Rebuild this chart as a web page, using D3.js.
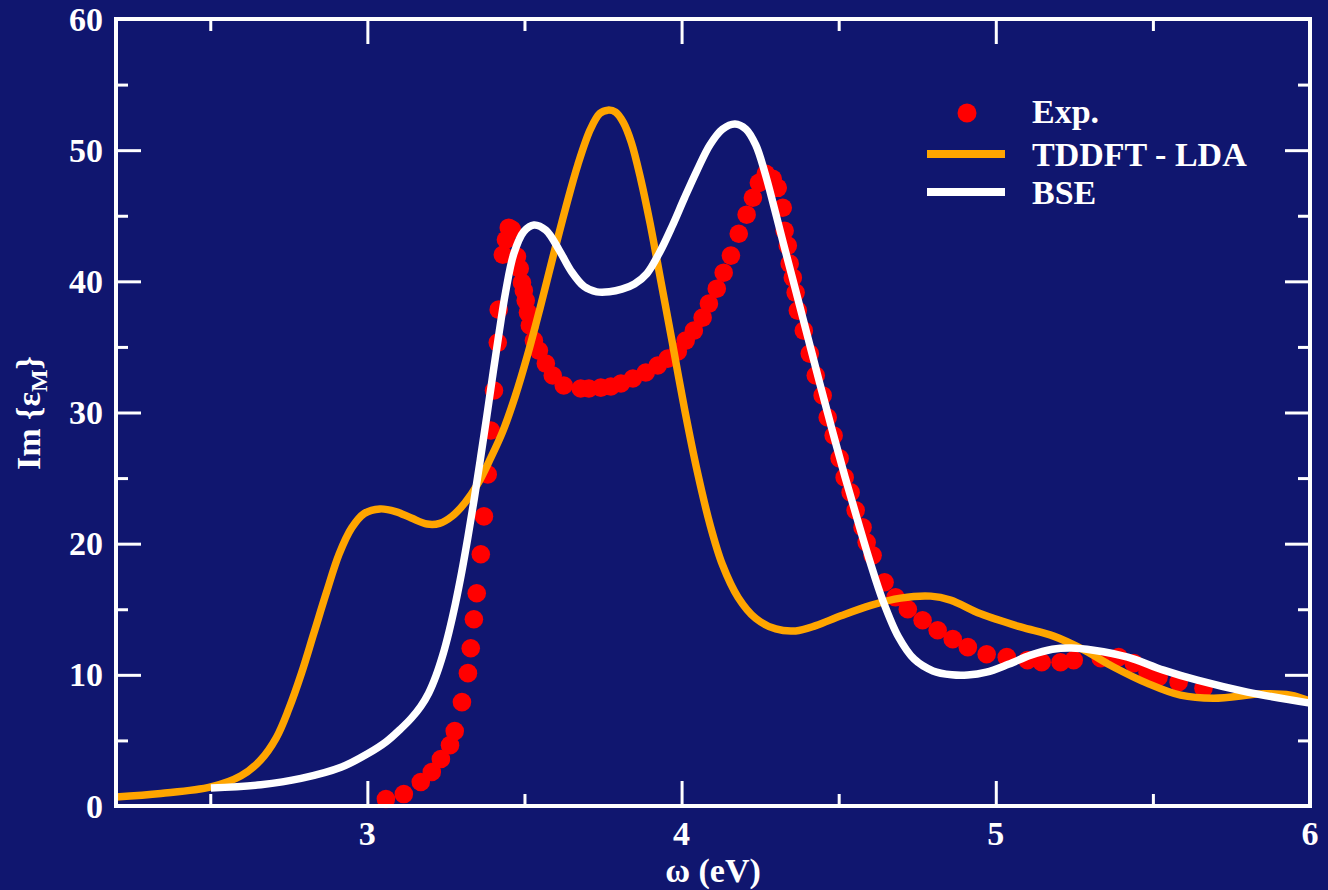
<!DOCTYPE html>
<html>
<head>
<meta charset="utf-8">
<script src="https://cdn.jsdelivr.net/npm/d3@7"></script>
<style>
  html, body { margin: 0; padding: 0; background: #10166f; }
  svg { display: block; }
  text { font-family: "Liberation Serif", "Times New Roman", serif; font-weight: bold; fill: #ffffff; }
</style>
</head>
<body>
<svg id="chart" width="1328" height="890"></svg>
<script>
// ---------------- data ----------------
const expX = [3.059,3.116,3.170,3.205,3.234,3.263,3.278,3.301,3.320,3.329,3.339,3.348,3.361,3.371,3.383,3.393,3.403,3.415,3.418,3.431,3.441,3.450,3.460,3.476,3.485,3.492,3.498,3.504,3.511,3.517,3.530,3.546,3.568,3.590,3.625,3.679,3.705,3.743,3.775,3.807,3.845,3.886,3.924,3.956,3.988,4.013,4.039,4.067,4.087,4.112,4.134,4.157,4.182,4.207,4.227,4.246,4.268,4.290,4.306,4.322,4.328,4.338,4.344,4.354,4.363,4.370,4.389,4.408,4.427,4.449,4.465,4.484,4.503,4.519,4.538,4.554,4.576,4.589,4.608,4.646,4.681,4.720,4.767,4.815,4.863,4.911,4.971,5.035,5.101,5.146,5.206,5.248,5.334,5.391,5.439,5.483,5.518,5.582,5.661];
const expY = [0.53,0.91,1.83,2.59,3.58,4.64,5.71,7.92,10.13,12.03,14.24,16.22,19.19,22.08,25.28,28.63,31.68,35.33,37.84,42.03,43.17,44.09,43.94,41.88,40.97,39.90,39.29,38.53,37.62,36.63,35.48,34.72,33.73,32.82,32.06,31.83,31.83,31.90,31.98,32.21,32.59,33.05,33.58,34.11,34.65,35.48,36.24,37.23,38.30,39.44,40.66,41.96,43.63,45.08,46.37,47.51,48.20,47.82,47.13,45.61,43.86,42.72,41.35,40.28,39.14,37.77,36.24,34.49,32.82,31.30,29.62,28.25,26.50,25.05,23.91,22.54,21.24,20.10,19.11,17.06,15.91,15.00,14.16,13.40,12.72,12.11,11.57,11.35,11.12,10.96,10.96,11.12,11.27,11.35,10.89,10.20,9.82,9.44,8.98];

const tddftX = [2.200,2.343,2.502,2.598,2.660,2.710,2.750,2.790,2.830,2.870,2.910,2.950,2.990,3.040,3.090,3.140,3.190,3.230,3.270,3.310,3.350,3.390,3.430,3.470,3.510,3.550,3.590,3.630,3.670,3.710,3.740,3.765,3.790,3.815,3.840,3.870,3.900,3.935,3.970,4.010,4.050,4.090,4.130,4.180,4.236,4.300,4.363,4.427,4.507,4.602,4.697,4.793,4.856,4.952,5.079,5.184,5.280,5.375,5.483,5.588,5.693,5.852,5.938,6.000];
const tddftY = [0.69,0.95,1.45,2.30,3.50,5.20,7.40,10.10,13.20,16.30,19.20,21.20,22.30,22.65,22.45,21.95,21.50,21.55,22.10,23.10,24.50,26.40,28.50,31.20,34.40,38.00,41.80,45.50,48.90,51.60,52.80,53.05,52.90,52.10,50.60,47.80,44.40,39.90,35.40,30.20,25.50,21.50,18.40,15.90,14.30,13.50,13.35,13.75,14.50,15.30,15.85,16.00,15.70,14.65,13.65,12.95,11.90,10.60,9.35,8.45,8.22,8.55,8.45,8.00];

const bseX = [2.502,2.661,2.789,2.916,3.002,3.060,3.107,3.140,3.170,3.195,3.218,3.240,3.260,3.280,3.300,3.320,3.340,3.360,3.380,3.400,3.420,3.440,3.466,3.498,3.530,3.568,3.610,3.648,3.690,3.730,3.770,3.810,3.850,3.890,3.930,3.970,4.010,4.050,4.090,4.130,4.170,4.205,4.236,4.265,4.295,4.325,4.360,4.400,4.440,4.480,4.520,4.560,4.600,4.640,4.690,4.740,4.800,4.860,4.910,4.970,5.040,5.111,5.180,5.240,5.311,5.420,5.534,5.642,5.801,6.000];
const bseY = [1.37,1.62,2.10,2.95,4.00,4.90,5.90,6.70,7.60,8.60,9.90,11.50,13.30,15.40,17.80,20.50,23.40,26.50,29.70,33.00,36.20,39.20,42.10,43.80,44.30,43.90,42.40,40.80,39.60,39.20,39.20,39.40,39.80,40.60,42.20,44.20,46.40,48.50,50.40,51.60,52.00,51.60,50.40,48.30,45.60,42.80,39.60,35.90,32.20,28.60,25.10,21.80,18.60,15.70,12.90,11.20,10.30,10.00,9.98,10.20,10.80,11.50,11.95,12.05,11.88,11.35,10.36,9.59,8.68,7.84];

const xMajorTicks = [3, 4, 5, 6];
const xMinorTicks = [2.5, 3.5, 4.5, 5.5];
const yMajorTicks = [0, 10, 20, 30, 40, 50, 60];
const yMinorTicks = [5, 15, 25, 35, 45, 55];

const legendLabels = ["Exp.", "TDDFT - LDA", "BSE"];
const xLabel = "ω (eV)";

// ---------------- chart ----------------
const svg = d3.select("#chart");
const W = 1328, H = 890;
const M = { left: 116, right: 1310, top: 19, bottom: 806 };
const BG = "#10166f";
const ORANGE = "#ffa500";
const RED = "#ff0000";

svg.append("rect").attr("width", W).attr("height", H).attr("fill", BG);

const x = d3.scaleLinear().domain([2.2, 6]).range([M.left, M.right]);
const y = d3.scaleLinear().domain([0, 60]).range([M.bottom, M.top]);

const plot = svg.append("g");

// experimental dots
const exp = expX.map((d, i) => ({ x: d, y: expY[i] }));
plot.selectAll("circle.exp").data(exp).join("circle")
  .attr("class", "exp")
  .attr("cx", d => x(d.x)).attr("cy", d => y(d.y)).attr("r", 9.3)
  .attr("fill", RED);

const line = d3.line().x(d => x(d.x)).y(d => y(d.y)).curve(d3.curveCatmullRom.alpha(0.5));

const tddft = tddftX.map((d, i) => ({ x: d, y: tddftY[i] }));
plot.append("path").datum(tddft).attr("d", line)
  .attr("fill", "none").attr("stroke", ORANGE).attr("stroke-width", 7.5)
  .attr("stroke-linecap", "butt").attr("stroke-linejoin", "round");

const bse = bseX.map((d, i) => ({ x: d, y: bseY[i] }));
plot.append("path").datum(bse).attr("d", line)
  .attr("fill", "none").attr("stroke", "#ffffff").attr("stroke-width", 7.5)
  .attr("stroke-linecap", "butt").attr("stroke-linejoin", "round");

// ticks via d3 axes (inward ticks on all four sides)
function styleAxis(g) {
  g.select(".domain").remove();
  g.selectAll(".tick line").attr("stroke", "#ffffff").attr("stroke-width", 3);
  g.selectAll(".tick text").remove();
}
svg.append("g").attr("transform", `translate(0,${M.bottom})`)
  .call(d3.axisBottom(x).tickValues(xMajorTicks.filter(v => v < 6)).tickSize(-25)).call(styleAxis);
svg.append("g").attr("transform", `translate(0,${M.bottom})`)
  .call(d3.axisBottom(x).tickValues(xMinorTicks).tickSize(-12)).call(styleAxis);
svg.append("g").attr("transform", `translate(0,${M.top})`)
  .call(d3.axisTop(x).tickValues(xMajorTicks.filter(v => v < 6)).tickSize(-25)).call(styleAxis);
svg.append("g").attr("transform", `translate(0,${M.top})`)
  .call(d3.axisTop(x).tickValues(xMinorTicks).tickSize(-12)).call(styleAxis);
svg.append("g").attr("transform", `translate(${M.left},0)`)
  .call(d3.axisLeft(y).tickValues(yMajorTicks.filter(v => v > 0 && v < 60)).tickSize(-25)).call(styleAxis);
svg.append("g").attr("transform", `translate(${M.left},0)`)
  .call(d3.axisLeft(y).tickValues(yMinorTicks).tickSize(-12)).call(styleAxis);
svg.append("g").attr("transform", `translate(${M.right},0)`)
  .call(d3.axisRight(y).tickValues(yMajorTicks.filter(v => v > 0 && v < 60)).tickSize(-25)).call(styleAxis);
svg.append("g").attr("transform", `translate(${M.right},0)`)
  .call(d3.axisRight(y).tickValues(yMinorTicks).tickSize(-12)).call(styleAxis);

// frame
svg.append("rect")
  .attr("x", M.left).attr("y", M.top)
  .attr("width", M.right - M.left).attr("height", M.bottom - M.top)
  .attr("fill", "none").attr("stroke", "#ffffff").attr("stroke-width", 4);

// tick labels
svg.append("g").selectAll("text").data(xMajorTicks).join("text")
  .attr("x", d => x(d)).attr("y", 845)
  .attr("text-anchor", "middle").attr("font-size", 34)
  .text(d => d);
svg.append("g").selectAll("text").data(yMajorTicks).join("text")
  .attr("x", 103).attr("y", d => y(d) + 11.5)
  .attr("text-anchor", "end").attr("font-size", 34)
  .text(d => d);

// axis titles
svg.append("text").attr("x", 713).attr("y", 882)
  .attr("text-anchor", "middle").attr("font-size", 34).text(xLabel);

const yl = svg.append("text")
  .attr("transform", "translate(40,413) rotate(-90)")
  .attr("text-anchor", "middle").attr("font-size", 34);
yl.append("tspan").text("Im {ε");
yl.append("tspan").attr("font-size", 24).attr("dy", 7).text("M");
yl.append("tspan").attr("dy", -7).text("}");

// legend
const lg = svg.append("g");
lg.append("circle").attr("cx", 967).attr("cy", 113).attr("r", 9.5).attr("fill", RED);
lg.append("line").attr("x1", 927).attr("x2", 1005).attr("y1", 154).attr("y2", 154)
  .attr("stroke", ORANGE).attr("stroke-width", 8);
lg.append("line").attr("x1", 927).attr("x2", 1005).attr("y1", 192).attr("y2", 192)
  .attr("stroke", "#ffffff").attr("stroke-width", 8);
lg.selectAll("text").data(legendLabels).join("text")
  .attr("x", 1032).attr("y", (d, i) => [123, 166, 204][i])
  .attr("font-size", 34).text(d => d);
</script>
</body>
</html>
